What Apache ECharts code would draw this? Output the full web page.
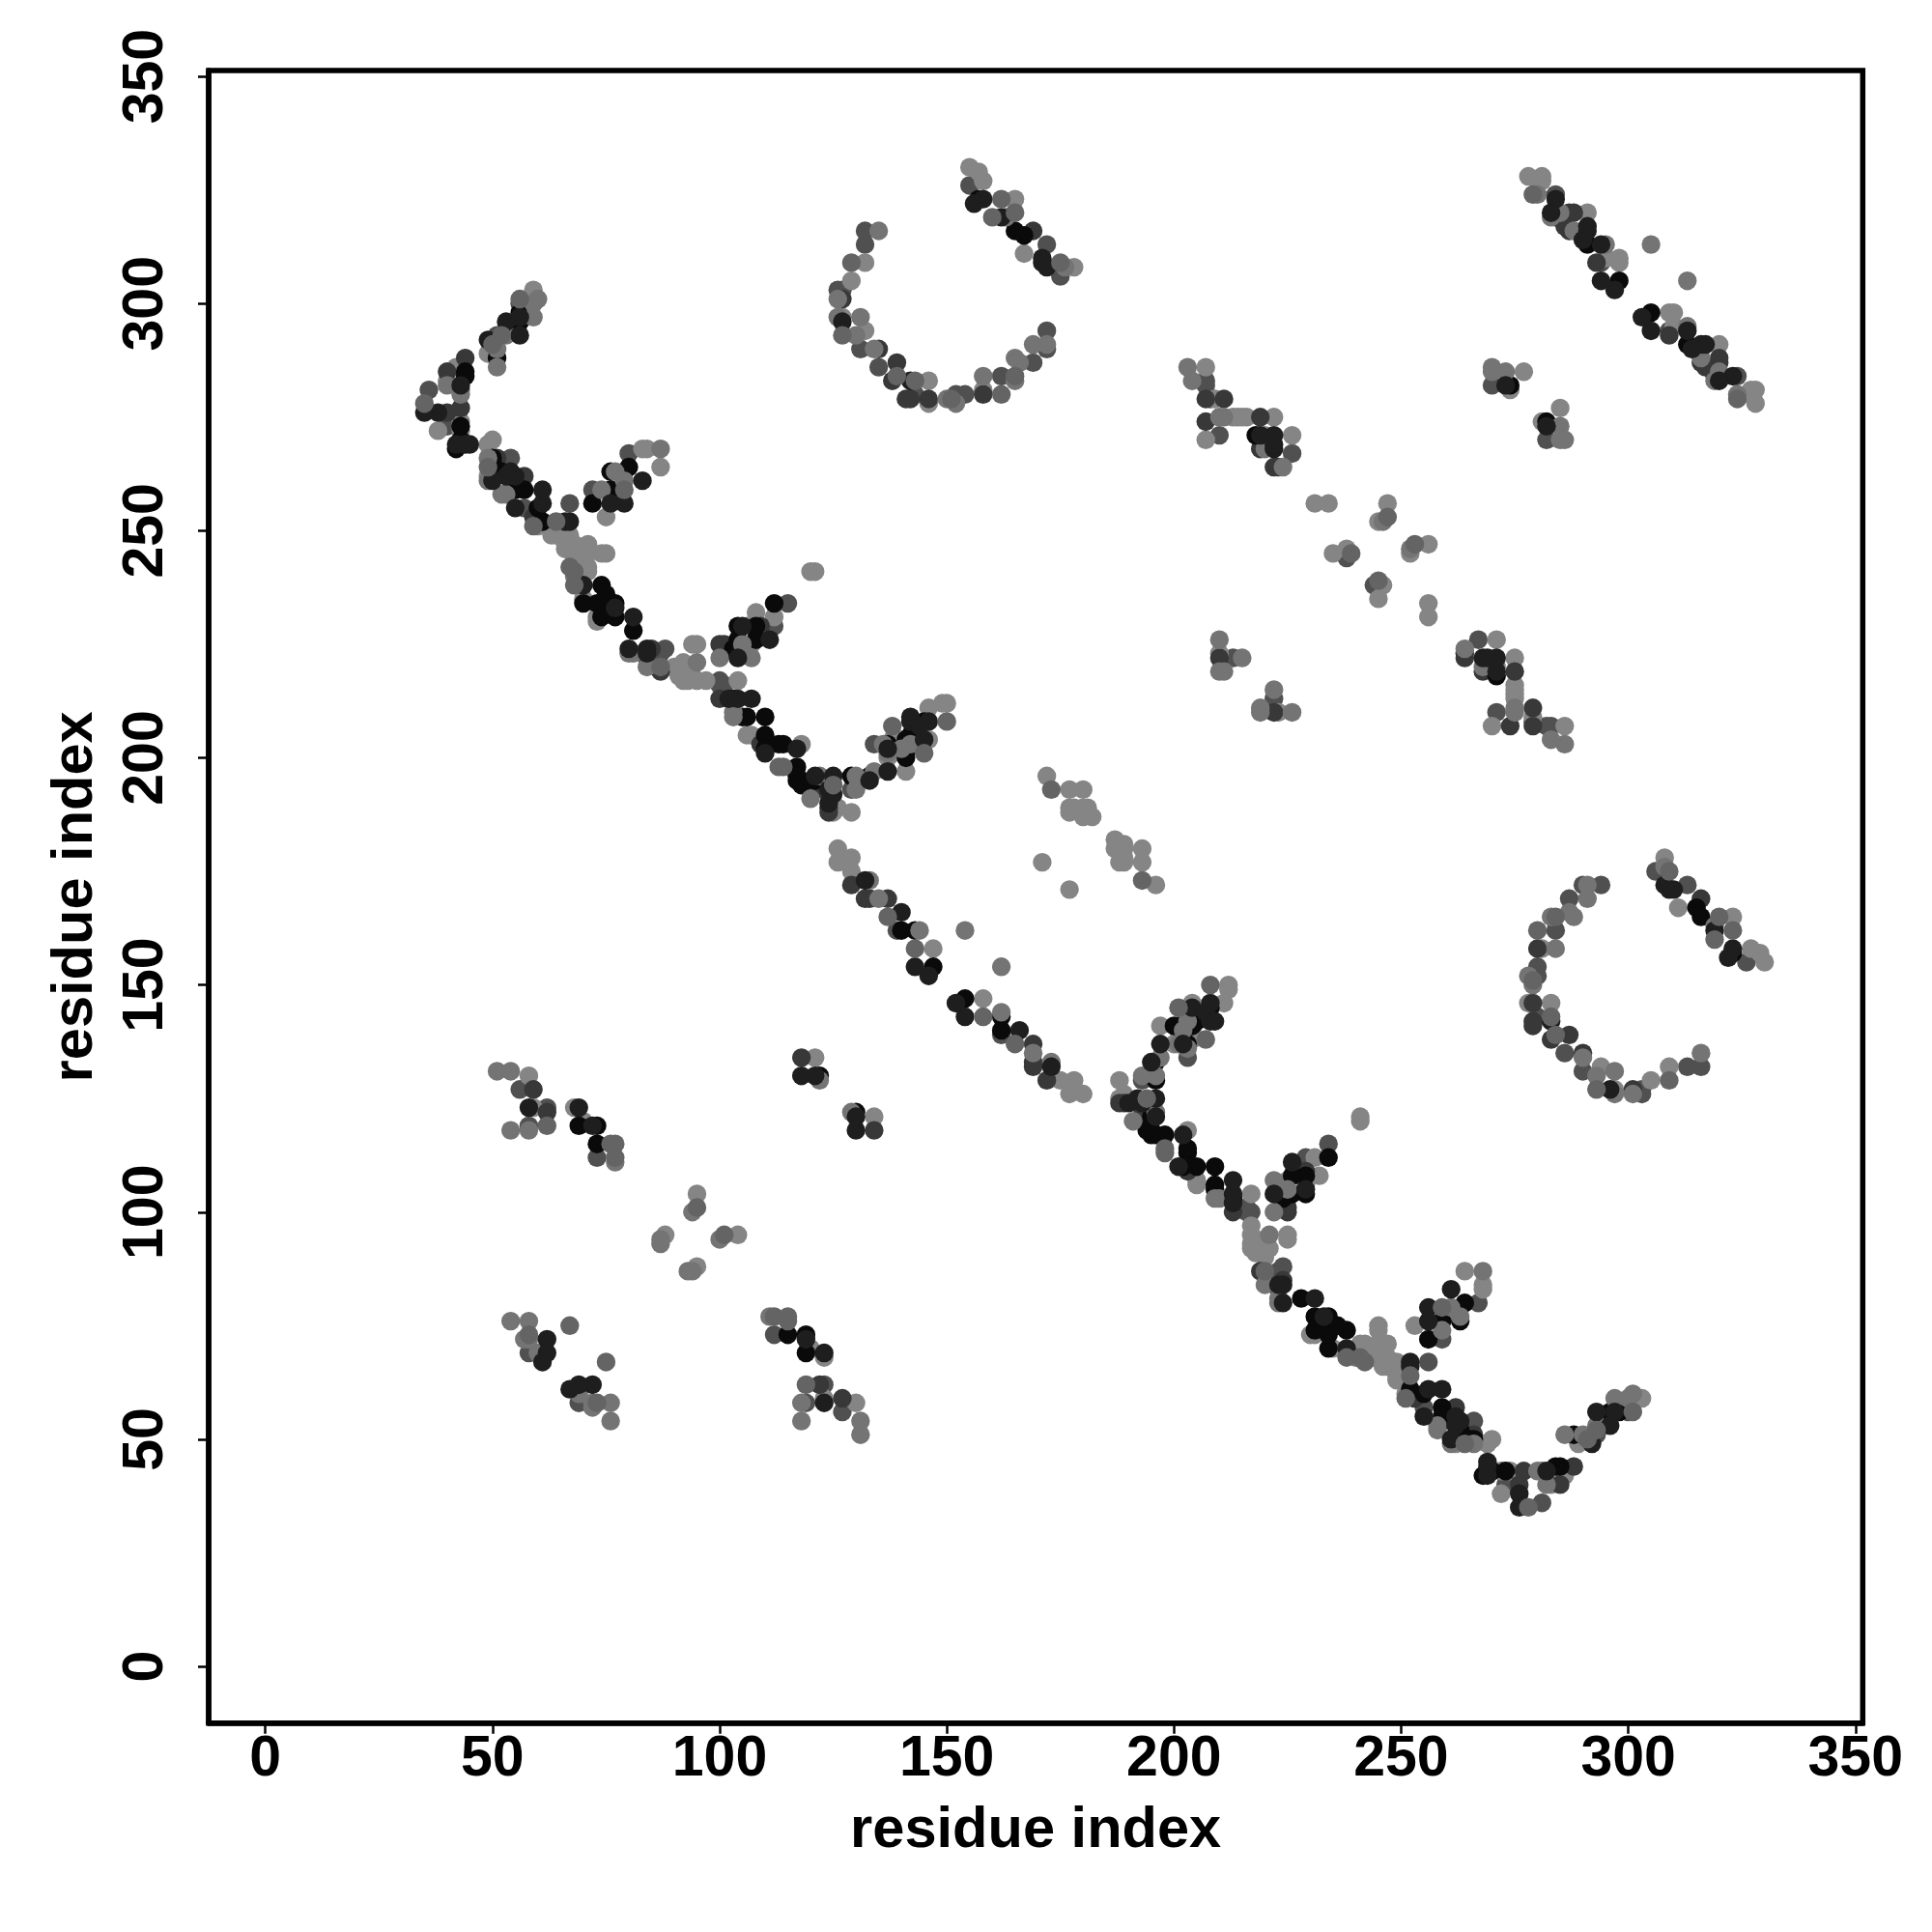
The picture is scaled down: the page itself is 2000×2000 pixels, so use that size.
<!DOCTYPE html>
<html>
<head>
<meta charset="utf-8">
<style>html,body{margin:0;padding:0;background:#fff}#c{width:2000px;height:2000px}</style>
<script src="https://cdn.jsdelivr.net/npm/echarts@6/dist/echarts.min.js"></script>
</head>
<body>
<div id="c"></div>
<script>
// Contacts, one triangle only (y > x); the map is symmetric about the diagonal.
const tickValues = [0, 50, 100, 150, 200, 250, 300, 350];
const axisTitle = "residue index";

const shadeBlack = [[274,282],[122,130],[69,119],[73,119],[73,115],[291,313],[298,305],[157,323],[165,316],[167,315],[56,296],[44,285],[51,288],[43,273],[43,270],[54,259],[57,259],[60,255],[61,252],[74,238],[70,234],[73,234],[77,234],[74,231],[77,231],[81,228],[80,264],[76,263],[76,259],[72,256],[112,234],[104,229],[108,229],[108,226],[104,226],[50,266],[103,213],[106,209],[110,209],[110,205],[110,202],[113,203],[114,203],[117,198],[117,195],[118,195],[129,196],[133,196],[137,203],[141,201],[141,204],[142,205],[145,208],[140,162],[143,162],[147,154],[55,259],[52,263],[50,265],[56,298],[44,284],[75,233],[75,236],[103,224],[105,223],[105,209],[117,196],[118,194],[121,195],[143,204],[141,200],[218,271],[42,268]];
const shadeNearBlack = [[219,271],[222,271],[222,268],[222,269],[273,282],[118,130],[121,130],[58,123],[69,123],[72,119],[62,72],[62,69],[61,67],[284,323],[291,316],[291,317],[294,313],[294,305],[297,303],[158,323],[162,319],[142,283],[171,309],[171,310],[172,308],[127,296],[56,297],[53,296],[56,293],[49,292],[43,282],[38,276],[35,276],[42,269],[45,269],[53,262],[55,262],[50,261],[61,259],[61,256],[67,252],[66,252],[70,238],[81,231],[80,224],[84,224],[83,261],[76,256],[79,256],[111,226],[104,222],[84,223],[104,213],[107,213],[117,202],[121,196],[125,196],[124,193],[125,192],[124,190],[137,197],[142,208],[146,208],[145,204],[132,173],[140,166],[143,154],[146,152],[55,255],[54,263],[77,233],[105,229],[102,213],[110,201],[133,195],[137,202],[144,207],[142,209],[156,322],[283,320],[290,314],[44,269]];
const shadeCharcoal = [[207,279],[211,279],[207,274],[219,275],[219,268],[223,264],[210,222],[118,134],[59,127],[62,122],[284,319],[287,320],[288,320],[287,316],[169,316],[146,279],[142,279],[139,287],[138,283],[135,290],[127,301],[158,280],[44,288],[40,285],[43,277],[51,266],[57,262],[100,225],[87,219],[85,224],[121,193],[124,188],[129,172],[132,169],[133,169],[137,169],[101,225],[100,213],[59,253],[108,228],[109,229],[109,203],[124,192],[124,189],[141,279],[286,317],[293,309],[222,264],[40,276]];
const shadeDarkGray = [[207,283],[207,282],[208,279],[210,271],[226,267],[270,282],[213,222],[238,244],[56,127],[62,123],[58,119],[73,112],[58,69],[284,324],[294,309],[155,326],[172,313],[172,294],[172,290],[169,287],[162,284],[154,280],[152,280],[143,280],[135,286],[131,290],[127,303],[126,303],[132,313],[132,316],[175,306],[36,281],[40,273],[51,293],[54,266],[57,255],[67,256],[72,259],[80,267],[115,234],[112,229],[109,228],[88,224],[100,217],[100,216],[129,193],[134,203],[139,162],[56,300],[84,222],[87,223],[101,216]];
const shadeMidGray = [[247,253],[239,245],[76,115],[77,115],[77,112],[62,119],[67,75],[58,73],[95,101],[162,323],[165,320],[175,309],[165,284],[143,283],[139,284],[162,280],[160,319],[151,279],[129,309],[127,293],[56,301],[35,278],[64,252],[68,241],[68,238],[79,259],[87,220],[113,198],[114,198],[138,207],[150,208],[145,201],[173,193],[137,165],[143,158],[49,264],[59,251],[50,291],[52,293],[67,242],[125,194],[279,324]];
const shadeGray = [[203,286],[204,283],[210,275],[211,275],[224,264],[270,286],[273,285],[270,285],[246,252],[210,226],[215,222],[210,219],[211,219],[51,131],[54,131],[54,118],[58,118],[77,111],[122,129],[94,100],[87,94],[87,93],[54,76],[58,76],[57,72],[60,69],[58,72],[285,320],[280,324],[295,313],[305,313],[288,316],[163,319],[176,308],[169,291],[172,291],[165,288],[166,287],[165,283],[158,284],[152,278],[150,279],[134,290],[131,297],[130,293],[126,297],[126,301],[135,316],[60,301],[59,300],[59,297],[53,293],[51,290],[51,286],[40,282],[43,281],[49,266],[53,258],[77,263],[87,268],[79,261],[74,259],[100,222],[107,222],[105,225],[84,220],[80,223],[130,196],[134,197],[130,193],[122,196],[120,191],[137,201],[142,203],[103,209],[95,221],[133,173],[135,169],[144,162],[154,162],[49,261],[52,258],[43,280],[68,240],[81,223],[103,210],[136,203],[140,202],[283,319],[220,268]];
const shadeLightGray = [[207,286],[209,279],[207,270],[213,275],[214,275],[215,275],[216,275],[222,275],[220,271],[226,271],[277,285],[274,281],[231,256],[234,256],[247,256],[245,252],[235,245],[238,246],[210,223],[58,130],[59,123],[68,123],[70,120],[121,134],[95,104],[88,95],[278,328],[281,328],[281,327],[291,320],[295,310],[298,310],[298,309],[155,330],[157,329],[158,327],[165,323],[167,311],[178,308],[158,281],[146,283],[146,278],[132,294],[127,297],[129,305],[132,309],[59,303],[57,300],[49,289],[38,272],[43,274],[43,272],[50,270],[49,269],[49,262],[50,262],[60,251],[64,249],[67,249],[66,247],[67,246],[71,247],[71,245],[75,245],[74,245],[71,242],[71,241],[68,244],[70,235],[73,231],[83,268],[84,268],[87,264],[75,253],[120,241],[121,241],[112,231],[108,232],[94,225],[95,225],[90,220],[92,221],[93,218],[95,217],[97,217],[92,217],[104,217],[106,205],[107,205],[118,203],[126,189],[125,188],[129,188],[141,197],[138,204],[138,201],[146,204],[146,211],[150,212],[149,212],[126,180],[126,177],[129,178],[129,175],[147,158],[172,196],[177,193],[180,193],[177,189],[177,188],[180,189],[181,189],[180,187],[182,187],[178,189],[181,188],[180,188],[171,177],[40,283],[42,286],[65,250],[63,249],[66,246],[68,247],[73,230],[106,229],[107,225],[91,218],[93,217],[94,218],[138,202],[140,204],[144,204],[137,200],[280,327]];

const layers = [
  {pts: shadeDarkGray, color: "#505050"},
  {pts: shadeLightGray, color: "#858585"},
  {pts: shadeCharcoal, color: "#383838"},
  {pts: shadeBlack, color: "#0a0a0a"},
  {pts: shadeGray, color: "#747474"},
  {pts: shadeNearBlack, color: "#1e1e1e"},
  {pts: shadeMidGray, color: "#646464"}
];
const font = "Liberation Sans";
const chart = echarts.init(document.getElementById("c"), null, {renderer: "canvas"});
function axis(isY) {
  return {
    type: "value",
    min: -12.48,
    max: isY ? 351.3 : 351.6,
    splitLine: {show: false},
    axisLine: {show: true, onZero: false, lineStyle: {color: "#000", width: 5.5}},
    axisTick: {show: true, customValues: tickValues, length: 11, lineStyle: {color: "#000", width: 2.5}},
    axisLabel: {
      show: true, customValues: tickValues, rotate: isY ? 90 : 0, margin: isY ? 35 : 9,
      fontFamily: font, fontWeight: "bold", fontSize: 59, color: "#000",
      hideOverlap: false, showMinLabel: true, showMaxLabel: true,
      formatter: v => String(v)
    },
    name: axisTitle,
    nameLocation: "middle",
    nameGap: isY ? 107 : 82,
    nameRotate: isY ? 90 : 0,
    nameTextStyle: {fontFamily: font, fontWeight: "bold", fontSize: 59.6, color: "#000"}
  };
}
chart.setOption({
  animation: false,
  backgroundColor: "#fff",
  grid: {left: 216, top: 73, width: 1712.3, height: 1710.7, containLabel: false,
         show: true, borderColor: "#000", borderWidth: 5.5, backgroundColor: "#fff"},
  xAxis: axis(false),
  yAxis: axis(true),
  series: layers.map((l, i) => ({
    type: "scatter",
    z: 2 + i,
    symbol: "circle",
    symbolSize: 19.4,
    silent: true,
    itemStyle: {color: l.color, opacity: 1},
    data: l.pts.concat(l.pts.map(p => [p[1], p[0]]))
  }))
});
</script>
</body>
</html>
